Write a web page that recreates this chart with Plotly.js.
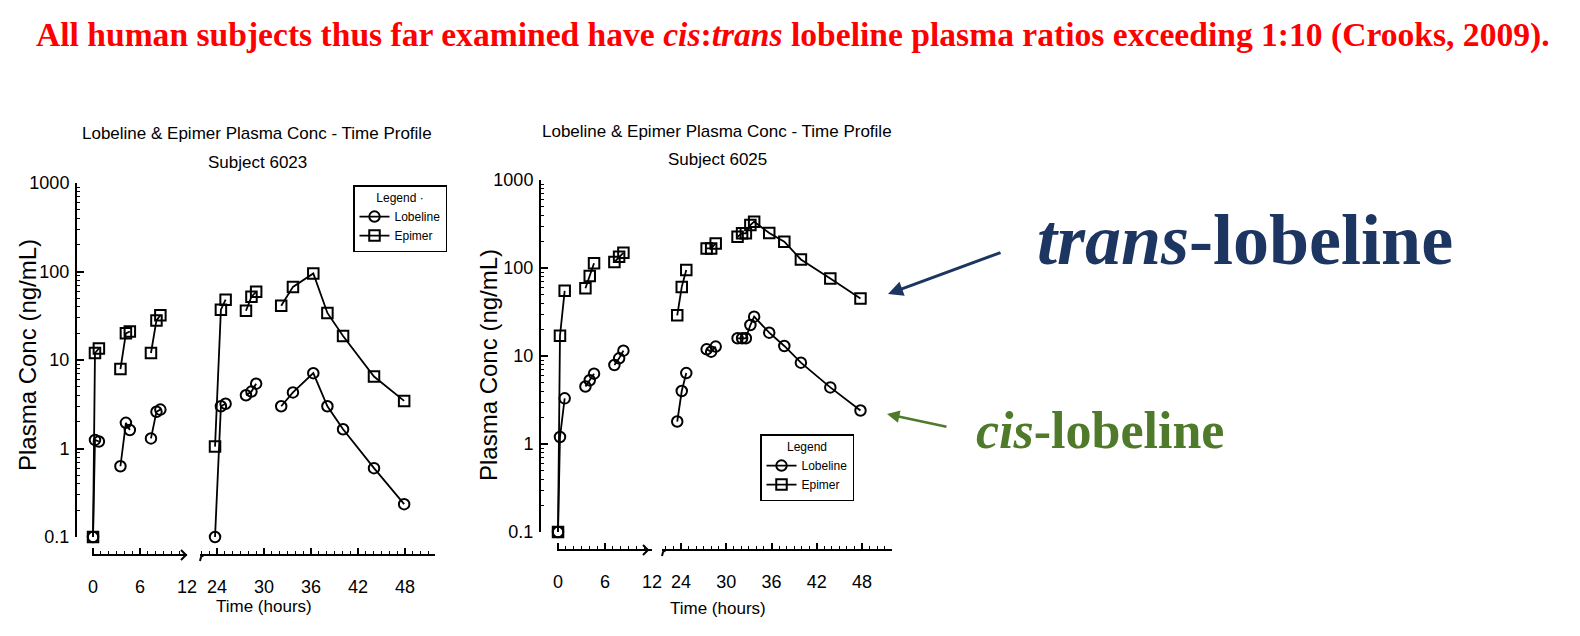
<!DOCTYPE html>
<html><head><meta charset="utf-8">
<script src="https://cdn.plot.ly/plotly-3.0.1.min.js"></script>
<style>html,body{margin:0;padding:0;background:#fff;}#chart{width:1580px;height:636px;}</style>
</head><body><div id="chart"></div>
<script>
// ---------- DATA ----------
const seriesNames = ['Lobeline', 'Epimer'];
const xTicksDay1 = [0, 6, 12];
const xTicksDay2 = [24, 30, 36, 42, 48];
const yTickVals = [0.1, 1, 10, 100, 1000];
const yTickText = ['0.1', '1', '10', '100', '1000'];

// Subject 6023
const s6023Time     = [0, 0.25, 0.75, 3.5, 4.2, 4.7, 7.4, 8.1, 8.6, 23.75, 24.5, 25.1, 27.7, 28.4, 29.0, 32.2, 33.7, 36.3, 38.1, 40.1, 44.05, 47.9];
const s6023Session  = [1, 1, 1, 2, 2, 2, 3, 3, 3, 4, 4, 4, 5, 5, 5, 6, 6, 6, 6, 6, 6, 6];
const s6023Lobeline = [0.1, 1.25, 1.2, 0.63, 1.95, 1.62, 1.3, 2.6, 2.75, 0.1, 3.0, 3.2, 4.0, 4.4, 5.4, 3.0, 4.3, 7.1, 3.0, 1.65, 0.6, 0.235];
const s6023Epimer   = [0.1, 12, 13.5, 7.9, 20, 21, 12, 28, 32, 1.05, 37, 48, 36, 52, 59, 41, 67, 95, 34, 18.7, 6.5, 3.45];

// Subject 6025
const s6025Time     = [0, 0.25, 0.85, 3.5, 4.05, 4.6, 7.2, 7.8, 8.35, 23.5, 24.1, 24.7, 27.4, 28.0, 28.6, 31.5, 32.1, 32.6, 33.2, 33.7, 35.7, 37.7, 39.9, 43.8, 47.8];
const s6025Session  = [1, 1, 1, 2, 2, 2, 3, 3, 3, 4, 4, 4, 5, 5, 5, 6, 6, 6, 6, 6, 6, 6, 6, 6, 6];
const s6025Lobeline = [0.1, 1.2, 3.3, 4.5, 5.3, 6.3, 7.9, 9.4, 11.5, 1.8, 4.0, 6.4, 11.9, 11.2, 12.8, 15.9, 15.9, 15.9, 22.5, 28, 18.4, 13, 8.4, 4.4, 2.4];
const s6025Epimer   = [0.1, 17, 55, 59, 81, 113, 117, 134, 149, 29, 61, 95, 167, 167, 190, 227, 248, 248, 308, 336, 250, 199, 125, 76, 45];

// ---------- HELPERS ----------
const W = 1580, H = 636;
const px = x => x / W;
const py = y => 1 - y / H;
const SANS = '"Liberation Sans", Arial, sans-serif';
const SERIF = '"Liberation Serif", "DejaVu Serif", serif';

function segmentData(time, session, values, inDay1) {
  const xs = [], ys = [];
  let prev = null;
  for (let i = 0; i < time.length; i++) {
    const isDay1 = time[i] < 12;
    if (isDay1 !== inDay1) continue;
    if (prev !== null && session[i] !== prev) { xs.push(null); ys.push(null); }
    xs.push(time[i]); ys.push(values[i]);
    prev = session[i];
  }
  return {xs, ys};
}

function makeTraces(time, session, values, name, symbol, size, xa1, xa2, ya, legendId) {
  const out = [];
  [[true, xa1], [false, xa2]].forEach(([d1, xa], k) => {
    const s = segmentData(time, session, values, d1);
    out.push({
      type: 'scatter', mode: 'lines+markers', x: s.xs, y: s.ys, name: name,
      xaxis: xa, yaxis: ya, legend: legendId, showlegend: k === 0, connectgaps: false, cliponaxis: false,
      line: {color: '#000', width: 1.8},
      marker: {symbol: symbol, size: size, color: '#000', line: {color: '#000', width: 2}},
      hoverinfo: 'x+y+name'
    });
  });
  return out;
}

const minorY = [];
for (let e = -1; e < 3; e++) for (let m = 2; m <= 9; m++) minorY.push(m * Math.pow(10, e));

function xSeg(x0, x1, range, yAxisPix, ticks, standoff) {
  return {
    domain: [px(x0), px(x1)], range: range, anchor: 'free', position: py(yAxisPix),
    showline: true, linecolor: '#000', linewidth: 2.2, showgrid: false, zeroline: false,
    ticks: 'inside', ticklen: 6, tickwidth: 2, tickcolor: '#000',
    tickmode: 'array', tickvals: ticks, ticktext: ticks.map(String),
    minor: {ticks: 'inside', ticklen: 3, tickwidth: 1, tickcolor: '#000', tickmode: 'linear', tick0: 0, dtick: 1},
    tickfont: {family: SANS, size: 18, color: '#000'}, ticklabelstandoff: standoff, fixedrange: true
  };
}
function yAx(yTop, yBot, xPix) {
  return {
    type: 'log', range: [-1, 3], domain: [py(yBot), py(yTop)], anchor: 'free', position: px(xPix),
    showline: true, linecolor: '#000', linewidth: 2.2, showgrid: false, zeroline: false,
    ticks: 'inside', ticklen: 7, tickwidth: 2, tickcolor: '#000',
    tickmode: 'array', tickvals: yTickVals, ticktext: yTickText,
    minor: {ticks: 'inside', ticklen: 3, tickwidth: 1, tickcolor: '#000', tickmode: 'array', tickvals: minorY},
    tickfont: {family: SANS, size: 18, color: '#000'}, ticklabelstandoff: 2, fixedrange: true
  };
}

// ---------- TRACES ----------
const data = [].concat(
  makeTraces(s6023Time, s6023Session, s6023Lobeline, seriesNames[0], 'circle-open', 10.5, 'x', 'x2', 'y', 'legend'),
  makeTraces(s6023Time, s6023Session, s6023Epimer, seriesNames[1], 'square-open', 10.5, 'x', 'x2', 'y', 'legend'),
  makeTraces(s6025Time, s6025Session, s6025Lobeline, seriesNames[0], 'circle-open', 10.5, 'x3', 'x4', 'y2', 'legend2'),
  makeTraces(s6025Time, s6025Session, s6025Epimer, seriesNames[1], 'square-open', 10.5, 'x3', 'x4', 'y2', 'legend2')
);

// ---------- DECORATIONS (axis breaks) ----------
function pathPx(pts) {
  return 'M ' + pts.map(p => px(p[0]) + ',' + py(p[1])).join(' L ');
}
const breakShapes = [
  {type: 'path', xref: 'paper', yref: 'paper', path: pathPx([[181, 550], [186, 555], [181, 560]]), line: {color: '#000', width: 2}},
  {type: 'path', xref: 'paper', yref: 'paper', path: pathPx([[200, 561], [201, 557], [204, 555]]), line: {color: '#000', width: 2}},
  {type: 'path', xref: 'paper', yref: 'paper', path: pathPx([[643, 545], [648, 550], [643, 555]]), line: {color: '#000', width: 2}},
  {type: 'path', xref: 'paper', yref: 'paper', path: pathPx([[662, 556], [663, 552], [666, 550]]), line: {color: '#000', width: 2}}
];

const titleFont = {family: SANS, size: 17, color: '#000'};
const legendBase = {
  xanchor: 'left', yanchor: 'top', bgcolor: '#fff', bordercolor: '#000', borderwidth: 1.5,
  font: {family: SANS, size: 12, color: '#000'}, itemwidth: 30, tracegroupgap: 0
};

function txt(x, y, text, font, extra) {
  return Object.assign({xref: 'paper', yref: 'paper', x: px(x), y: py(y), xanchor: 'center', yanchor: 'middle',
    showarrow: false, text: text, font: font}, extra || {});
}

const layout = {
  width: W, height: H, margin: {l: 0, r: 0, t: 0, b: 0},
  paper_bgcolor: '#fff', plot_bgcolor: 'rgba(0,0,0,0)', showlegend: true,
  xaxis: xSeg(92, 187, [-0.13, 12], 555, xTicksDay1, 15),
  xaxis2: xSeg(200, 435, [21.83, 51.84], 555, xTicksDay2, 15),
  xaxis3: xSeg(557, 652, [-0.13, 12], 550, xTicksDay1, 15),
  xaxis4: xSeg(662, 892, [21.48, 51.98], 550, xTicksDay2, 15),
  yaxis: yAx(183, 537, 76),
  yaxis2: yAx(180, 532, 540),
  legend: Object.assign({}, legendBase, {x: px(353), y: py(185), title: {text: 'Legend ·', side: 'top center', font: {family: SANS, size: 12}}}),
  legend2: Object.assign({}, legendBase, {x: px(760), y: py(434), title: {text: 'Legend', side: 'top center', font: {family: SANS, size: 12}}}),
  shapes: breakShapes,
  annotations: [
    txt(793, 35, '<b>All human subjects thus far examined have <i>cis</i>:<i>trans</i> lobeline plasma ratios exceeding 1:10 (Crooks, 2009).</b>',
        {family: SERIF, size: 33.6, color: '#ff0000'}),
    txt(257, 133, 'Lobeline &amp; Epimer Plasma Conc - Time Profile', titleFont),
    txt(257, 162, 'Subject 6023', titleFont),
    txt(717, 132, 'Lobeline &amp; Epimer Plasma Conc - Time Profile', titleFont),
    txt(717, 160, 'Subject 6025', titleFont),
    txt(27, 355, 'Plasma Conc (ng/mL)', {family: SANS, size: 24, color: '#000'}, {textangle: -90}),
    txt(488, 365, 'Plasma Conc (ng/mL)', {family: SANS, size: 24, color: '#000'}, {textangle: -90}),
    txt(264, 606, 'Time (hours)', titleFont),
    txt(718, 608, 'Time (hours)', titleFont),
    txt(1245, 240, '<b><i>trans</i>-lobeline</b>', {family: SERIF, size: 72, color: '#1c3661'}),
    txt(1100, 430, '<b><i>cis</i>-lobeline</b>', {family: SERIF, size: 52, color: '#4f7a2a'}),
    {xref: 'paper', yref: 'paper', x: px(888), y: py(294), text: '', showarrow: true, ax: 114, ay: -42,
     arrowhead: 2, arrowsize: 1, arrowwidth: 3, arrowcolor: '#1c3661', standoff: 0},
    {xref: 'paper', yref: 'paper', x: px(887), y: py(414), text: '', showarrow: true, ax: 61, ay: 13,
     arrowhead: 2, arrowsize: 1, arrowwidth: 2.5, arrowcolor: '#4f7a2a', standoff: 0}
  ]
};

Plotly.newPlot('chart', data, layout, {staticPlot: true, displayModeBar: false});
</script>
</body></html>
